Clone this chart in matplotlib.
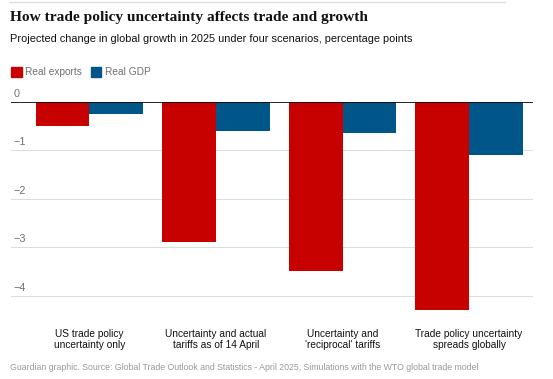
import matplotlib
matplotlib.use("Agg")
import matplotlib.pyplot as plt
import numpy as np

# data
scenarios = ["US trade policy\nuncertainty only",
             "Uncertainty and actual\ntariffs as of 14 April",
             "Uncertainty and\n'reciprocal' tariffs",
             "Trade policy uncertainty\nspreads globally"]
real_exports = [-0.5, -2.9, -3.5, -4.3]
real_gdp = [-0.25, -0.6, -0.65, -1.1]
yticks = [0, -1, -2, -3, -4]

RED = "#c70000"
BLUE = "#005689"
SANS = "Liberation Sans"

fig = plt.figure(figsize=(5.53, 3.79), dpi=100)
W, H = 553, 379

# axes placed in pixel terms
left, right, top, bottom = 11, 533, 102, 311
ax = fig.add_axes([left / W, 1 - bottom / H, (right - left) / W, (bottom - top) / H])

x = np.arange(len(scenarios))
bw = 0.426
ax.bar(x - bw / 2, real_exports, bw, color=RED, zorder=3)
ax.bar(x + bw / 2, real_gdp, bw, color=BLUE, zorder=3)

ax.set_xlim(-0.62, 3.505)
ax.set_ylim(-4.32, 0)
for s in ax.spines.values():
    s.set_visible(False)
ax.set_xticks([])
ax.set_yticks([])
for t in yticks:
    if t == 0:
        ax.axhline(0, color="black", lw=1.2, zorder=4)
    else:
        ax.axhline(t, color="#dcdcdc", lw=0.8, zorder=1)
    ax.text(-0.6, t + 0.06, str(t).replace("-", "\u2212"), fontsize=7.8,
            color="#707070", va="bottom", ha="left", family=SANS)

for i, lab in enumerate(scenarios):
    ax.text(i, -4.70, lab, ha="center", va="top", fontsize=7.3,
            color="#121212", linespacing=1.05, family=SANS)

# header
fig.add_artist(plt.Line2D([10 / W, 505 / W], [1 - 1.5 / H] * 2, color="#dcdcdc", lw=1))
fig.text(10 / W, 1 - 17 / H, "How trade policy uncertainty affects trade and growth",
         fontsize=11.1, fontweight="bold", family="Liberation Serif", va="center",
         color="#121212")
fig.text(10 / W, 1 - 39 / H,
         "Projected change in global growth in 2025 under four scenarios, percentage points",
         fontsize=7.95, va="center", color="#121212", family=SANS)

# legend
fig.add_artist(plt.Rectangle((11 / W, 1 - 77 / H), 11 / W, 10 / H, color=RED,
                             transform=fig.transFigure))
fig.text(25 / W, 1 - 72 / H, "Real exports", fontsize=7.3, color="#707070",
         va="center", family=SANS)
fig.add_artist(plt.Rectangle((91 / W, 1 - 77 / H), 10 / W, 10 / H, color=BLUE,
                             transform=fig.transFigure))
fig.text(105 / W, 1 - 72 / H, "Real GDP", fontsize=7.3, color="#707070",
         va="center", family=SANS)

fig.text(10 / W, 1 - 367 / H,
         "Guardian graphic. Source: Global Trade Outlook and Statistics - April 2025, "
         "Simulations with the WTO global trade model",
         fontsize=6.3, color="#999999", va="center", family=SANS)

fig.savefig("out.png", dpi=100, facecolor="white")
